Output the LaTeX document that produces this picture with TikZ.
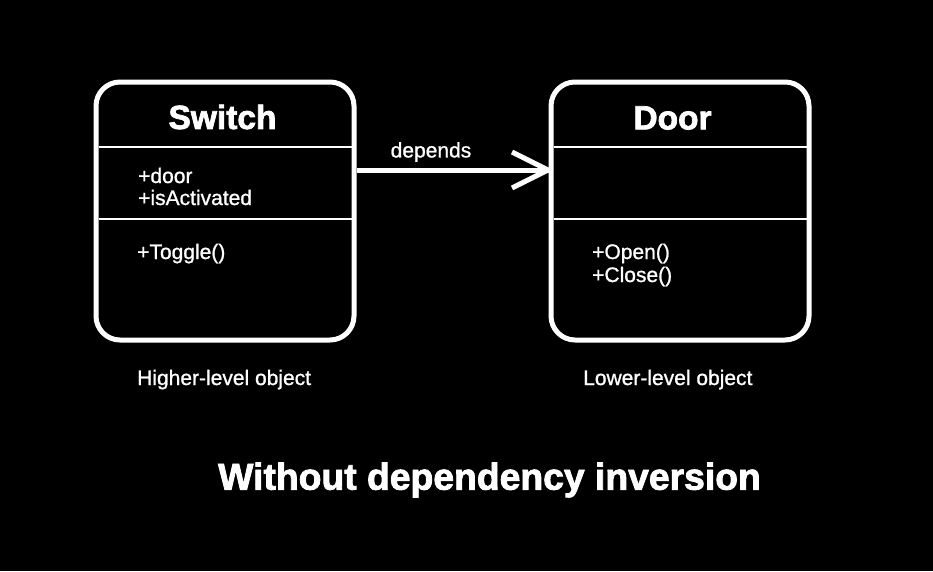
\documentclass[tikz,border=0pt]{standalone}
\usepackage{fontspec}
\setmainfont{Liberation Sans}
\newfontfamily\medfont[FakeBold=1.0]{Liberation Sans}
\newfontfamily\heavyfont[FakeBold=2.2]{Liberation Sans Bold}
\usetikzlibrary{arrows.meta}
\begin{document}
\begin{tikzpicture}[x=1pt,y=-1pt,
  umlbox/.style={draw=white, line width=5pt, rounded corners=24pt},
  divider/.style={draw=white, line width=2.5pt},
  conn/.style={draw=white, line width=5pt},
  title/.style={text=white, font=\heavyfont\fontsize{33.5}{38}\selectfont, inner sep=0pt},
  member/.style={text=white, font=\medfont\fontsize{21}{24}\selectfont, inner sep=0pt, anchor=base west, align=left},
  caption/.style={text=white, font=\medfont\fontsize{21}{24}\selectfont, inner sep=0pt, anchor=base west},
  heading/.style={text=white, font=\heavyfont\fontsize{37.3}{42}\selectfont, inner sep=0pt}
]
\fill[black] (0,0) rectangle (933,571);
\useasboundingbox (0,0) rectangle (933,571);

% Switch box
\node[umlbox, minimum width=258pt, minimum height=258pt, inner sep=0pt] (sw) at (225,211) {};
\draw[divider] (98.5,147) -- (351.5,147);
\draw[divider] (98.5,219) -- (351.5,219);
\node[title] (swt) at (222.5,117) {Switch};
\node[member] (swa1) at (138,183) {+door};
\node[member] (swa2) at (138,205) {+isActivated};
\node[member] (swm1) at (137,259) {+Toggle()};

% Door box
\node[umlbox, minimum width=258pt, minimum height=258pt, inner sep=0pt] (dr) at (680,211) {};
\draw[divider] (553.5,147) -- (806.5,147);
\draw[divider] (553.5,219) -- (806.5,219);
\node[title] (drt) at (672.5,118) {Door};
\node[member] (drm1) at (592,259) {+Open()};
\node[member] (drm2) at (592,282) {+Close()};

% arrow
\coordinate (a1) at (sw.east |- 0,170);
\coordinate (a2) at (dr.west |- 0,170);
\draw[conn] (a1) -- (a2);
\draw[conn, line join=miter] (512,152) -- (548,170) -- (512,188);
\node[text=white, font=\medfont\fontsize{21}{24}\selectfont, inner sep=0pt] (dep) at (431,152) {depends};

% captions
\node[caption] (c1) at (137,385) {Higher-level object};
\node[caption] (c2) at (583,385) {Lower-level object};

\node[heading] (h) at (489.5,480) {Without dependency inversion};
\end{tikzpicture}
\end{document}
